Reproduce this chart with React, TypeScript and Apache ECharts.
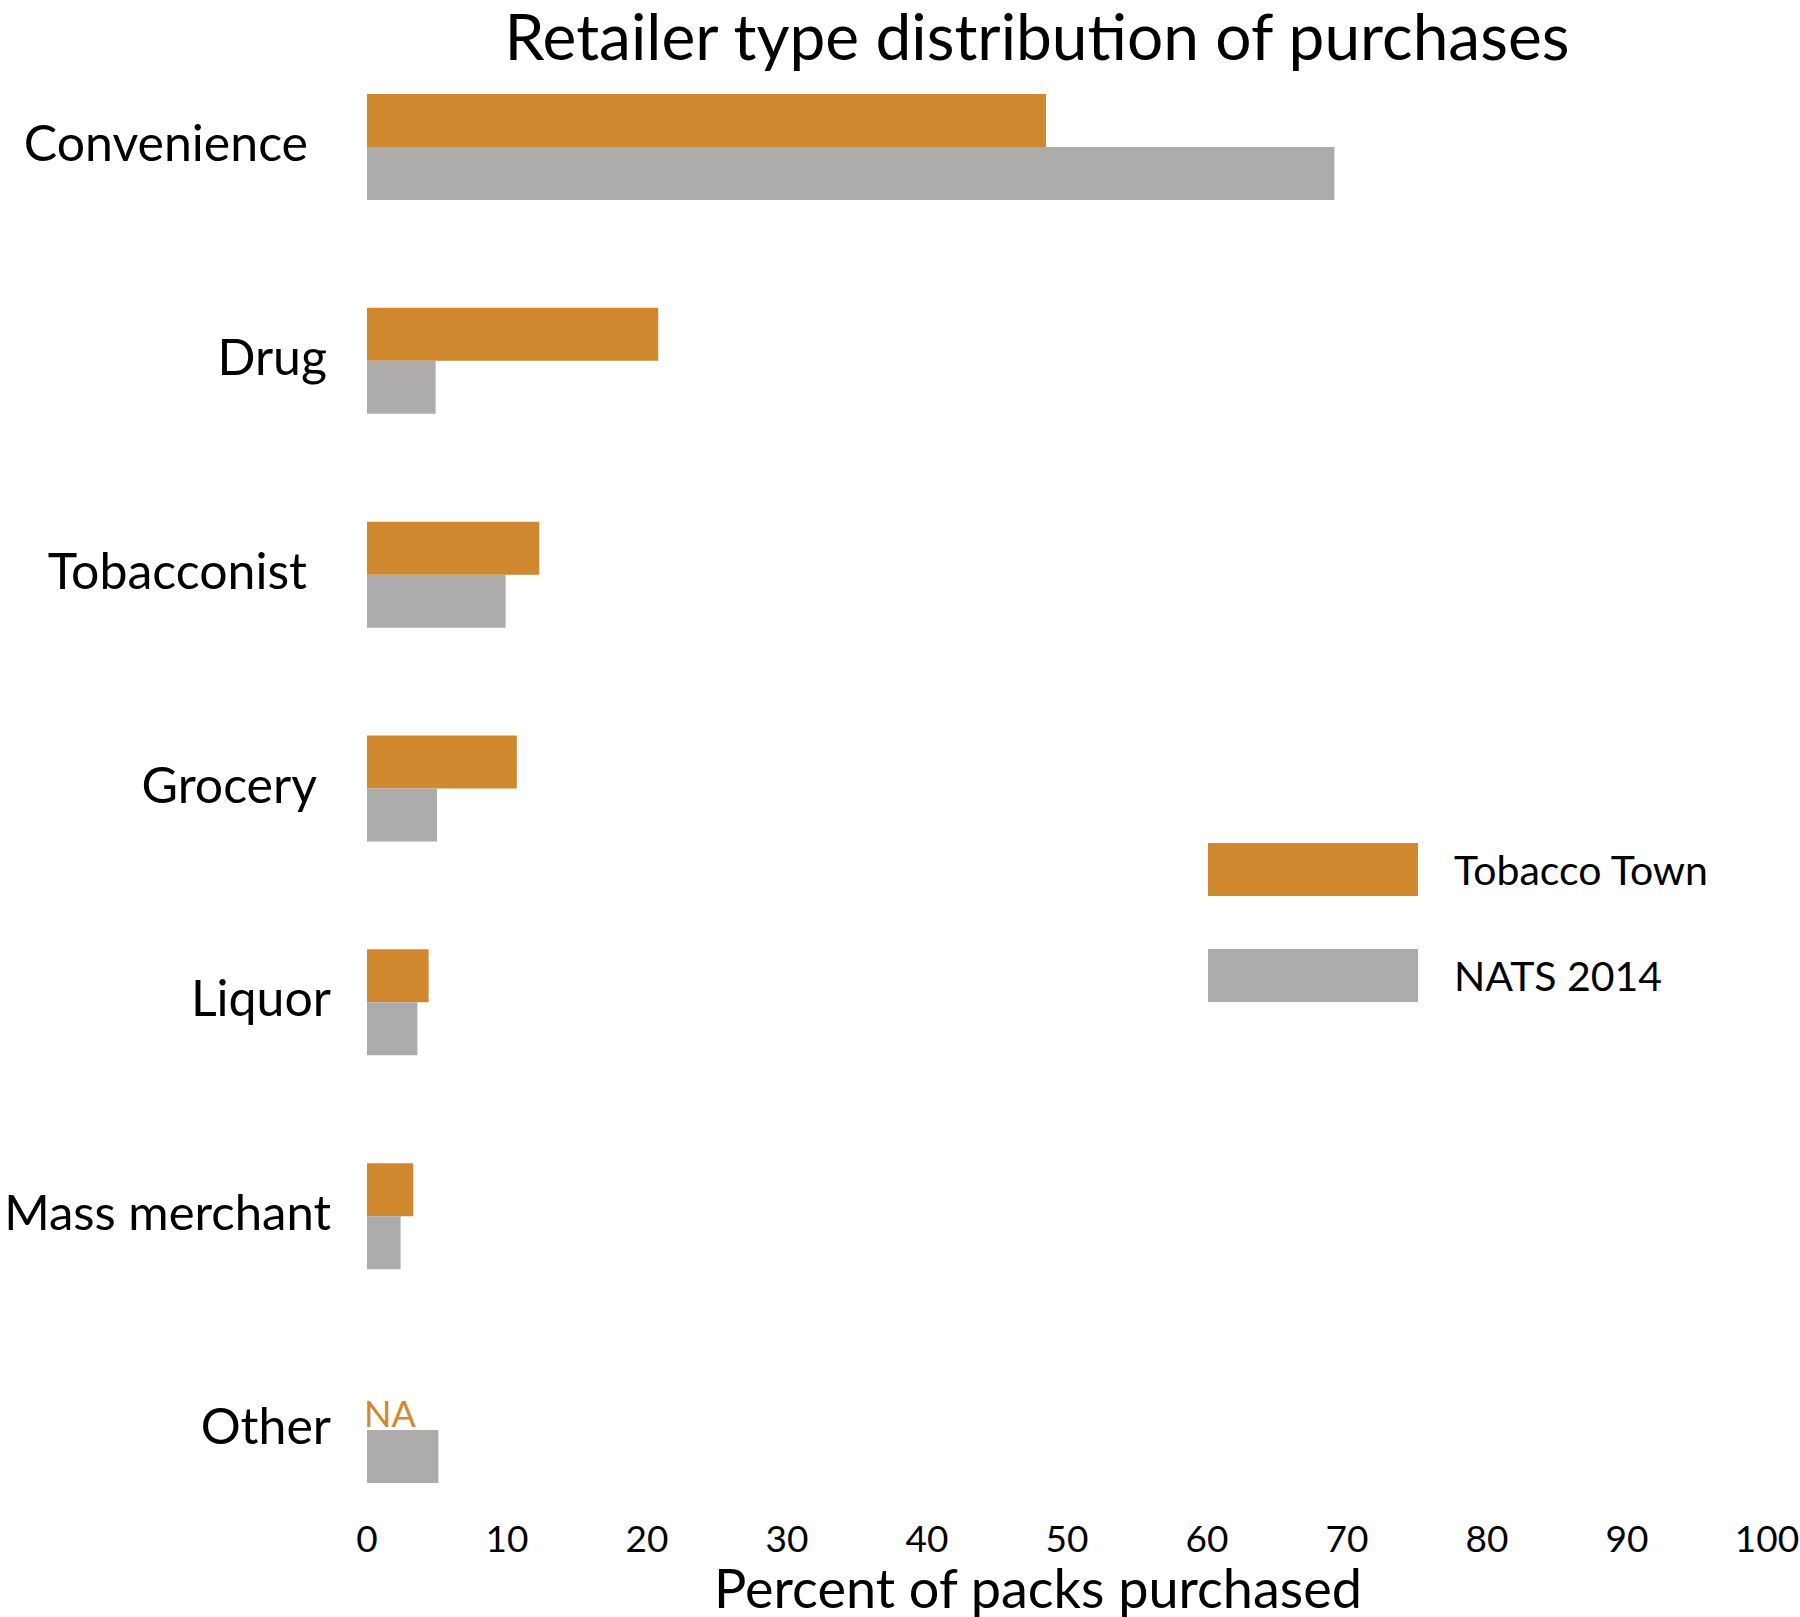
import React, { useEffect, useRef } from "react";
import * as echarts from "echarts";

const categories = ["Convenience", "Drug", "Tobacconist", "Grocery", "Liquor", "Mass merchant", "Other"];
const tobaccoTown: (number | null)[] = [48.5, 20.8, 12.3, 10.7, 4.4, 3.3, null];
const nats2014 = [69.1, 4.9, 9.9, 5.0, 3.6, 2.4, 5.1];
const seriesNames = ["Tobacco Town", "NATS 2014"];
const xMin = 0;
const xMax = 100;
const xInterval = 10;

const ORANGE = "#D0892E";
const GRAY = "#ADACAA";
const FONT = "Lato";

// visual right-edge offsets of category labels (layout only)
const labelPad: Record<string, number> = {
  Convenience: 23,
  Drug: 4,
  Tobacconist: 24,
  Grocery: 14,
};

export default function App() {
  const ref = useRef<HTMLDivElement>(null);
  useEffect(() => {
    if (!ref.current) return;
    const chart = echarts.init(ref.current, undefined, { renderer: "svg" });
    const rich: Record<string, any> = {};
    categories.forEach((c, i) => {
      rich["c" + i] = {
        fontFamily: FONT,
        fontSize: c === "Mass merchant" ? 49 : 50,
        color: "#000",
        padding: [0, labelPad[c] || 0, 10, 0],
      };
    });
    chart.setOption({
      animation: false,
      backgroundColor: "#fff",
      title: {
        text: "Retailer type distribution of purchases",
        left: 1037,
        top: 3,
        textAlign: "center",
        padding: 0,
        textStyle: { fontFamily: FONT, fontSize: 64, lineHeight: 64, fontWeight: "normal", color: "#000" },
      },
      legend: {
        orient: "vertical",
        left: 1208,
        top: 843,
        padding: 0,
        itemWidth: 210,
        itemHeight: 53,
        itemGap: 53,
        icon: "rect",
        data: seriesNames,
        textStyle: { fontFamily: FONT, fontSize: 41, color: "#000", padding: [0, 0, 14, 31] },
      },
      grid: { left: 367, right: 33, top: 40, bottom: 80, containLabel: false, outerBoundsMode: "none" },
      xAxis: {
        type: "value",
        min: xMin,
        max: xMax,
        interval: xInterval,
        axisLine: { show: false },
        axisTick: { show: false },
        splitLine: { show: false },
        axisLabel: { fontFamily: FONT, fontSize: 37, lineHeight: 37, color: "#000", margin: -18 },
        name: "Percent of packs purchased",
        nameLocation: "middle",
        nameGap: 23,
        nameTextStyle: { fontFamily: FONT, fontSize: 54, lineHeight: 50, color: "#000", padding: [0, 58, 0, 0] },
      },
      yAxis: {
        type: "category",
        data: categories,
        inverse: true,
        axisLine: { show: false },
        axisTick: { show: false },
        axisLabel: {
          margin: 36,
          formatter: (v: string) => `{c${categories.indexOf(v)}|${v}}`,
          rich,
        },
      },
      series: [
        {
          name: seriesNames[0],
          type: "bar",
          barWidth: 53,
          barGap: "0%",
          itemStyle: { color: ORANGE },
          data: tobaccoTown.map((v) =>
            v === null
              ? {
                  value: 0,
                  label: {
                    show: true,
                    position: "right",
                    distance: -3,
                    offset: [0, 9],
                    formatter: "NA",
                    fontFamily: FONT,
                    fontSize: 36,
                    color: ORANGE,
                  },
                }
              : v
          ),
        },
        {
          name: seriesNames[1],
          type: "bar",
          barWidth: 53,
          barGap: "0%",
          itemStyle: { color: GRAY },
          data: nats2014,
        },
      ],
    });
    return () => chart.dispose();
  }, []);
  return (
    <div
      ref={ref}
      style={{ position: "fixed", left: 0, top: 0, width: 1800, height: 1617, background: "#fff" }}
    />
  );
}
